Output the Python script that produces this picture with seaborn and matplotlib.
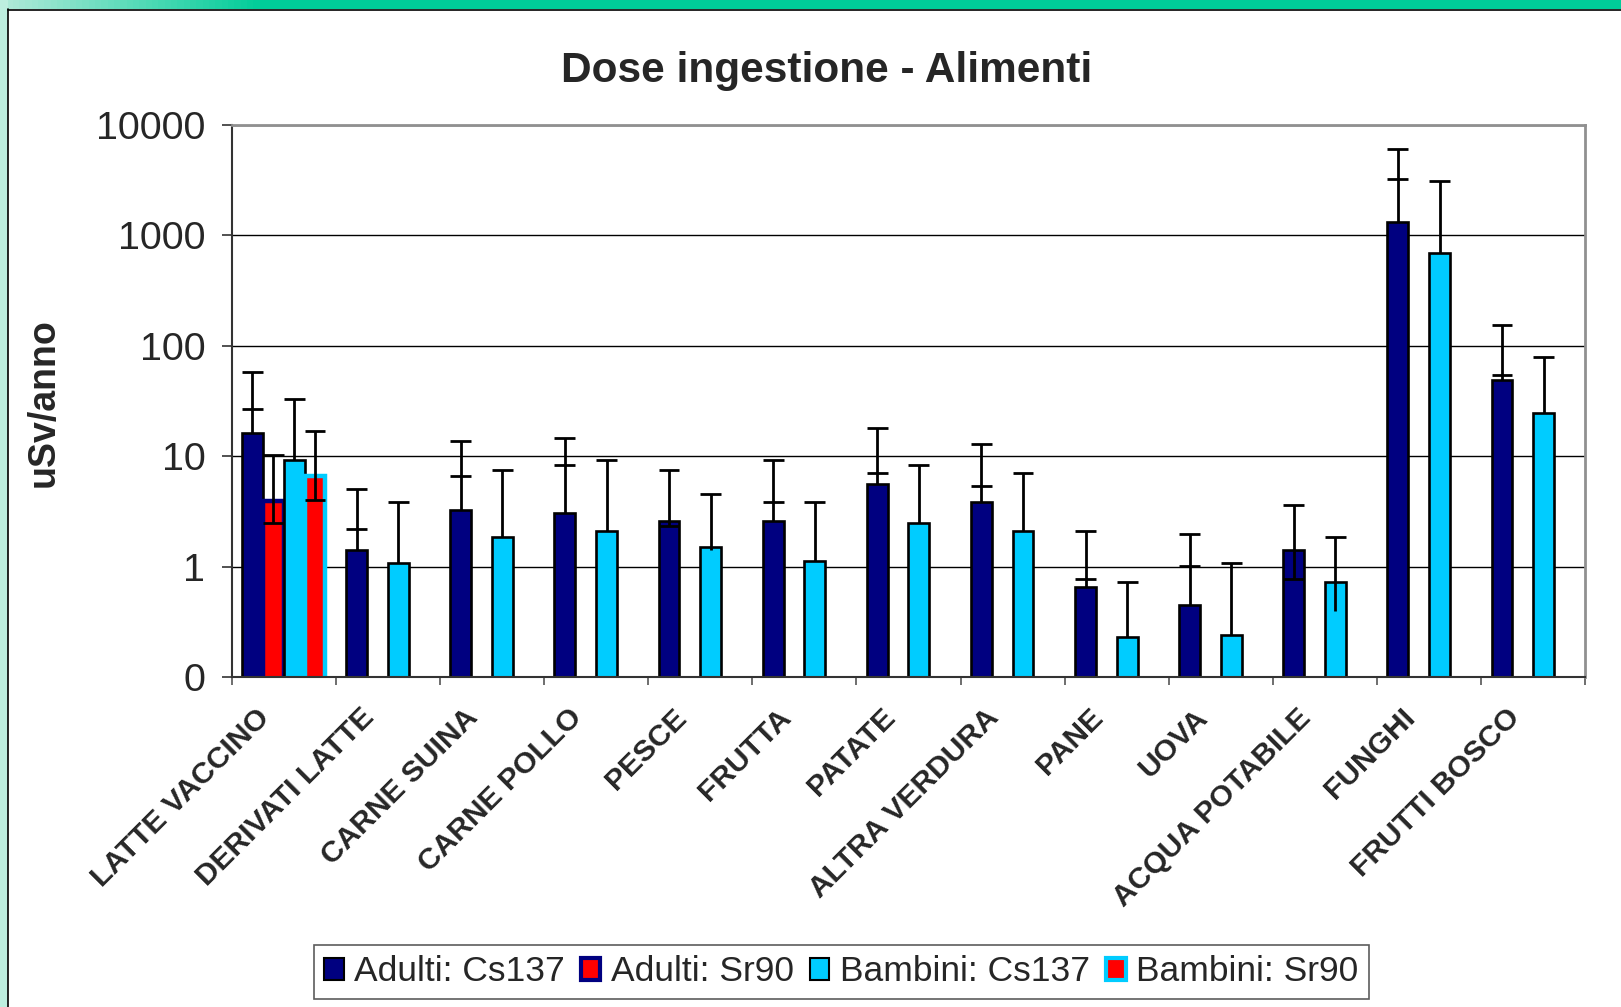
import numpy as np
import pandas as pd
import matplotlib
matplotlib.use("Agg")
import matplotlib.pyplot as plt
import matplotlib.transforms as mtransforms
import seaborn as sns
from matplotlib.patches import Patch, Rectangle
from matplotlib.lines import Line2D
from matplotlib.colors import LinearSegmentedColormap
from matplotlib.ticker import NullLocator

na = np.nan

alimenti = ["LATTE VACCINO", "DERIVATI LATTE", "CARNE SUINA", "CARNE POLLO",
            "PESCE", "FRUTTA", "PATATE", "ALTRA VERDURA", "PANE", "UOVA",
            "ACQUA POTABILE", "FUNGHI", "FRUTTI BOSCO"]
serie = ["Adulti: Cs137", "Adulti: Sr90", "Bambini: Cs137", "Bambini: Sr90"]

# dose values (uSv/anno)
adulti_cs = [16.1, 1.42, 3.25, 3.09, 2.60, 2.60, 5.64, 3.84, 0.658, 0.445, 1.42, 1327, 48.8]
adulti_sr = [3.95, na, na, na, na, na, na, na, na, na, na, na, na]
bambini_cs = [9.26, 1.07, 1.85, 2.08, 1.49, 1.13, 2.46, 2.08, 0.231, 0.241, 0.730, 687, 24.8]
bambini_sr = [6.58, na, na, na, na, na, na, na, na, na, na, na, na]

# error bar ends
adulti_cs_sup = [57.6, 5.04, 13.6, 14.6, 7.46, 9.32, 17.96, 12.85, 2.08, 1.99, 3.63, 6000, 153]
adulti_cs_tick = [26.5, 2.20, 6.67, 8.28, 2.34, 3.84, 7.0, 5.37, 0.767, 1.02, 0.767, 3236, 54.2]
bambini_cs_sup = [32.96, 3.82, 7.46, 9.32, 4.51, 3.82, 8.28, 7.0, 0.730, 1.08, 1.86, 3083, 78.9]
bambini_cs_inf = [9.26, 1.07, 1.85, 2.08, 1.42, 1.13, 2.46, 2.08, 0.231, 0.241, 0.395, 687, 24.8]
adulti_sr_sup = [10.3, na, na, na, na, na, na, na, na, na, na, na, na]
adulti_sr_inf = [2.48, na, na, na, na, na, na, na, na, na, na, na, na]
bambini_sr_sup = [16.98, na, na, na, na, na, na, na, na, na, na, na, na]
bambini_sr_inf = [4.03, na, na, na, na, na, na, na, na, na, na, na, na]

navy = "#000080"
ciano = "#00CCFF"
rosso = "#FF0000"
colori = {serie[0]: navy, serie[1]: rosso, serie[2]: ciano, serie[3]: rosso}
bordi = [("black", 1.9), (navy, 3.2), ("black", 1.9), (ciano, 3.2)]

valori = [adulti_cs, adulti_sr, bambini_cs, bambini_sr]
df = pd.DataFrame({
    "alimento": alimenti * 4,
    "serie": [s for s in serie for _ in alimenti],
    "dose": [v for vals in valori for v in vals],
}).dropna()

sns.set_style("white")
plt.rcParams["font.family"] = ["Liberation Sans", "DejaVu Sans"]

fig = plt.figure(figsize=(16.21, 10.07), dpi=100)
ax = fig.add_axes([0.1429, 0.3277, 0.978 - 0.1429, 0.8759 - 0.3277])

sns.barplot(data=df, x="alimento", y="dose", hue="serie", order=alimenti,
            hue_order=serie, palette=colori, saturation=1, errorbar=None,
            legend=False, ax=ax, zorder=2)
ax.set_yscale("log")

# restyle bars and collect their centres
centri = {}
for p in ax.patches:
    cx = p.get_x() + p.get_width() / 2
    i = int(round(cx))
    s = int(round((cx - i + 0.3) / 0.2))
    ec, lw = bordi[s]
    p.set_edgecolor(ec)
    p.set_linewidth(lw)
    centri[(i, s)] = cx

# error bars
hw = 0.1
ew = 2.0
for i in range(len(alimenti)):
    x = centri[(i, 0)]
    lo = min(adulti_cs[i], adulti_cs_tick[i])
    ax.vlines(x, lo, adulti_cs_sup[i], color="black", lw=ew, zorder=4)
    ax.hlines([adulti_cs_sup[i], adulti_cs_tick[i]], x - hw, x + hw, color="black", lw=ew, zorder=4)

    x = centri[(i, 2)]
    ax.vlines(x, bambini_cs_inf[i], bambini_cs_sup[i], color="black", lw=ew, zorder=4)
    ax.hlines(bambini_cs_sup[i], x - hw, x + hw, color="black", lw=ew, zorder=4)

    for s, sup, inf in [(1, adulti_sr_sup, adulti_sr_inf), (3, bambini_sr_sup, bambini_sr_inf)]:
        if (i, s) in centri and not np.isnan(sup[i]):
            x = centri[(i, s)]
            ax.vlines(x, inf[i], sup[i], color="black", lw=ew, zorder=4)
            ax.hlines([sup[i], inf[i]], x - hw, x + hw, color="black", lw=ew, zorder=4)

ax.set_ylim(0.1, 10000)
ax.set_xlim(-0.5, len(alimenti) - 0.5)
ax.set_yticks([0.1, 1, 10, 100, 1000, 10000])
ax.set_yticklabels(["0", "1", "10", "100", "1000", "10000"], fontsize=28.4)
ax.yaxis.set_minor_locator(NullLocator())
ax.tick_params(axis="y", which="major", length=7, width=1.2, pad=12, left=True, color="#333333")

ax.set_xticks(range(len(alimenti)))
ax.set_xticklabels(alimenti, rotation=45, ha="right", rotation_mode="anchor",
                   fontweight="bold", fontsize=21.6)
ax.set_xticks(np.arange(-0.5, len(alimenti)), minor=True)
ax.tick_params(axis="x", which="major", length=0, pad=19)
ax.tick_params(axis="x", which="minor", length=6, width=1.2, bottom=True, color="#555555")
sposta = mtransforms.ScaledTranslation(-0.28, 0, fig.dpi_scale_trans)
for lab in ax.get_xticklabels():
    lab.set_transform(lab.get_transform() + sposta)
ax.set_xlabel("")
ax.set_ylabel("")

ax.yaxis.grid(True, color="black", lw=1.0)
ax.set_axisbelow(True)
for side in ["left", "bottom"]:
    ax.spines[side].set_color("#333333")
    ax.spines[side].set_linewidth(1.5)
for side in ["top", "right"]:
    ax.spines[side].set_color("#909090")
    ax.spines[side].set_linewidth(2.0)

fig.text(0.51, 0.929, "Dose ingestione - Alimenti", ha="center", va="center",
         fontsize=30.5, fontweight="bold")
fig.text(0.0268, 0.60, "uSv/anno", rotation=90, ha="center", va="center",
         fontsize=27, fontweight="bold")

maniglie = [Patch(facecolor=navy, edgecolor="black", lw=1.5),
            Patch(facecolor=rosso, edgecolor=navy, lw=3),
            Patch(facecolor=ciano, edgecolor="black", lw=1.5),
            Patch(facecolor=rosso, edgecolor=ciano, lw=3)]
leg = fig.legend(maniglie, serie, loc="center", bbox_to_anchor=(0.519, 0.035),
                 ncol=4, fontsize=25.5, frameon=True, fancybox=False,
                 handlelength=0.55, handleheight=0.6, handletextpad=0.3,
                 columnspacing=0.45, borderpad=0.3, borderaxespad=0)
leg.get_frame().set_edgecolor("#333333")
leg.get_frame().set_linewidth(1.2)

# slide frame
banda = fig.add_axes([0, 1 - 9 / 1007, 1, 9 / 1007])
cmap = LinearSegmentedColormap.from_list("verde", [(0, "#b2ead9"), (0.16, "#00cc99"), (1, "#00cc99")])
banda.imshow(np.linspace(0, 1, 512)[None, :], cmap=cmap, aspect="auto")
banda.axis("off")
fig.add_artist(Rectangle((0, 0), 8 / 1621, 1, transform=fig.transFigure, color="#bdeedf", lw=0))
fig.add_artist(Line2D([8 / 1621, 8 / 1621], [0, 1 - 9 / 1007], transform=fig.transFigure, color="black", lw=1.2))
fig.add_artist(Line2D([8 / 1621, 1], [1 - 9.5 / 1007, 1 - 9.5 / 1007], transform=fig.transFigure, color="black", lw=1.2))

fig.savefig("out.png", dpi=100)
